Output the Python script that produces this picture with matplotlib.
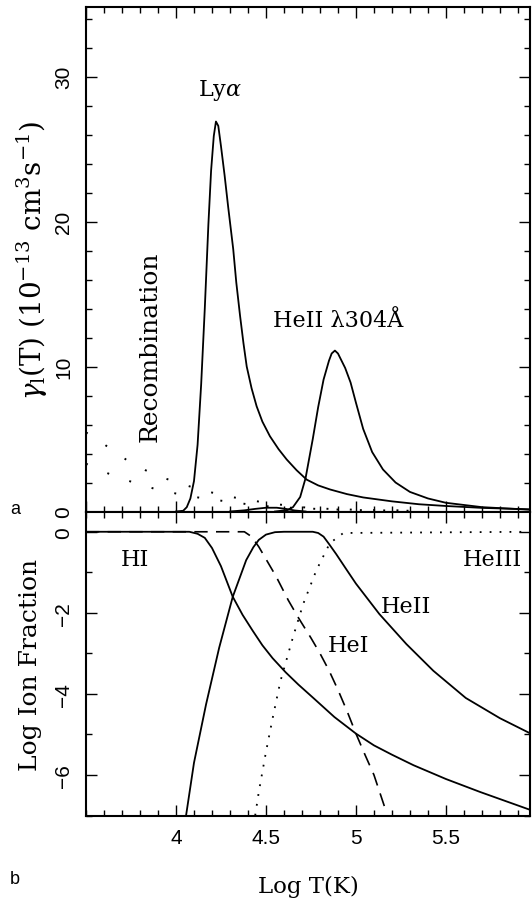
import numpy as np
import matplotlib
matplotlib.use("Agg")
import matplotlib.pyplot as plt
from matplotlib.ticker import MultipleLocator

plt.rcParams['font.family'] = ['DejaVu Serif']
plt.rcParams['mathtext.fontset'] = 'dejavuserif'

# ---- panel a: emission coefficients (1e-13 cm^3 s^-1) vs log T ----
lya_x = [4.00, 4.04, 4.06, 4.08, 4.10, 4.12, 4.14, 4.16, 4.18, 4.195, 4.21, 4.222,
         4.235, 4.25, 4.27, 4.29, 4.318, 4.335, 4.356, 4.375, 4.393, 4.42, 4.448,
         4.48, 4.522, 4.57, 4.615, 4.67, 4.726, 4.79, 4.856, 4.95, 5.04, 5.20,
         5.35, 5.50, 5.70, 5.97]
lya_y = [0.0, 0.05, 0.3, 0.9, 2.1, 4.6, 8.8, 14.0, 19.8, 23.5, 25.9, 26.9,
         26.6, 25.2, 23.2, 21.0, 18.1, 15.8, 13.5, 11.6, 10.0, 8.5, 7.26,
         6.2, 5.19, 4.3, 3.59, 2.85, 2.2, 1.8, 1.52, 1.2, 0.97, 0.7,
         0.5, 0.38, 0.25, 0.15]

he304_x = [4.55, 4.62, 4.65, 4.69, 4.72, 4.76, 4.79, 4.82, 4.85, 4.865, 4.883, 4.90,
           4.92, 4.94, 4.97, 5.00, 5.04, 5.09, 5.15, 5.22, 5.30, 5.40, 5.50, 5.70,
           5.97]
he304_y = [0.0, 0.1, 0.3, 1.0, 2.3, 5.0, 7.2, 9.1, 10.4, 10.9, 11.1, 10.9,
           10.4, 9.9, 8.9, 7.5, 5.7, 4.1, 2.9, 2.0, 1.35, 0.9, 0.6, 0.3,
           0.12]

bump_x = [4.30, 4.38, 4.44, 4.50, 4.56, 4.61, 4.66, 4.72]
bump_y = [0.0, 0.08, 0.18, 0.26, 0.26, 0.18, 0.07, 0.0]

rec1_x = [3.50, 3.54, 3.64, 3.73, 3.83, 3.94, 4.06, 4.17, 4.28, 4.39, 4.50, 4.62,
          4.73, 4.85, 5.00, 5.30]
rec1_y = [5.45, 5.2, 4.28, 3.52, 2.85, 2.28, 1.79, 1.4, 1.06, 0.83, 0.6, 0.41,
          0.26, 0.18, 0.12, 0.07]
rec2_x = [3.50, 3.55, 3.66, 3.77, 3.88, 4.00, 4.11, 4.23, 4.34, 4.45, 4.60, 4.80,
          5.00, 5.30]
rec2_y = [3.3, 3.01, 2.43, 1.98, 1.57, 1.24, 0.99, 0.78, 0.6, 0.41, 0.28, 0.17,
          0.1, 0.05]

# ---- panel b: log ion fractions ----
hi_x = [3.50, 4.074, 4.12, 4.16, 4.20, 4.25, 4.315, 4.37, 4.426, 4.48, 4.537,
        4.61, 4.68, 4.763, 4.88, 5.00, 5.10, 5.20, 5.32, 5.50, 5.69, 5.98]
hi_y = [0.0, 0.0, -0.05, -0.15, -0.4, -0.85, -1.6, -2.05, -2.44, -2.8, -3.12,
        -3.47, -3.77, -4.1, -4.57, -4.98, -5.27, -5.5, -5.76, -6.1, -6.42, -6.88]

heii_x = [4.056, 4.10, 4.167, 4.24, 4.315, 4.39, 4.43, 4.46, 4.50, 4.55, 4.60,
          4.76, 4.79, 4.82, 4.85, 4.89, 4.95, 5.00, 5.13, 5.28, 5.43, 5.61,
          5.80, 5.98]
heii_y = [-7.0, -5.7, -4.26, -2.86, -1.61, -0.7, -0.38, -0.2, -0.07, -0.01, 0.0,
          0.0, -0.03, -0.12, -0.3, -0.55, -0.95, -1.28, -2.03, -2.77, -3.43, -4.1,
          -4.6, -5.0]

hei_x = [3.50, 4.38, 4.42, 4.46, 4.51, 4.556, 4.624, 4.68, 4.75, 4.80, 4.85,
         4.90, 4.95, 5.00, 5.05, 5.10, 5.16]
hei_y = [0.0, 0.0, -0.12, -0.37, -0.75, -1.1, -1.69, -2.12, -2.62, -3.0, -3.42,
         -3.9, -4.42, -4.98, -5.5, -6.0, -6.8]

heiii_x = [4.44, 4.46, 4.50, 4.537, 4.58, 4.65, 4.707, 4.78, 4.855, 4.93, 5.98]
heiii_y = [-7.0, -6.42, -5.43, -4.6, -3.69, -2.6, -1.78, -0.95, -0.28, -0.03, 0.0]

W, H = 532, 903
fig = plt.figure(figsize=(W / 100, H / 100), dpi=100)
left, right = 86, 530
ax1 = fig.add_axes([left / W, 1 - 512.5 / H, (right - left) / W, 504.5 / H])
ax2 = fig.add_axes([left / W, 1 - 816.5 / H, (right - left) / W, 304 / H])

lw = 1.3
ax1.plot(lya_x, lya_y, color='black', lw=lw)
ax1.plot(he304_x, he304_y, color='black', lw=lw)
ax1.plot(bump_x, bump_y, color='black', lw=lw)
ax1.plot(rec1_x, rec1_y, color='black', lw=1.4, linestyle=(0, (1, 11)))
ax1.plot(rec2_x, rec2_y, color='black', lw=1.4, linestyle=(0, (1, 11)))

ax2.plot(hi_x, hi_y, color='black', lw=lw)
ax2.plot(heii_x, heii_y, color='black', lw=lw)
ax2.plot(hei_x, hei_y, color='black', lw=1.2, linestyle=(0, (8, 5)))
ax2.plot(heiii_x, heiii_y, color='black', lw=1.3, linestyle=(0, (1, 4.5)))

ax1.set_xlim(3.5, 5.967)
ax1.set_ylim(0, 34.8)
ax2.set_xlim(3.5, 5.967)
ax2.set_ylim(-7, 0.5)

for ax in (ax1, ax2):
    ax.xaxis.set_major_locator(MultipleLocator(0.5))
    ax.xaxis.set_minor_locator(MultipleLocator(0.1))
    ax.tick_params(which='both', direction='in', top=True, right=True, width=1.0)
    ax.tick_params(which='major', length=8)
    ax.tick_params(which='minor', length=4.5)
    ax.tick_params(axis='both', labelsize=15, pad=9)
    for s in ax.spines.values():
        s.set_linewidth(1.5)

ax1.yaxis.set_major_locator(MultipleLocator(10))
ax1.yaxis.set_minor_locator(MultipleLocator(2))
ax2.yaxis.set_major_locator(MultipleLocator(2))
ax2.yaxis.set_minor_locator(MultipleLocator(1))
ax1.tick_params(axis='x', labelbottom=False)

ax2.set_xticks([4, 4.5, 5, 5.5])
ax2.set_xticklabels(['4', '4.5', '5', '5.5'], fontfamily='Liberation Sans')
ax1.set_yticks([0, 10, 20, 30])
ax1.set_yticklabels(['0', '10', '20', '30'], rotation=90, va='center',
                    fontfamily='Liberation Sans')
ax2.set_yticks([-6, -4, -2, 0])
ax2.set_yticklabels(['\u22126', '\u22124', '\u22122', '0'], rotation=90, va='center',
                    fontfamily='Liberation Sans')

fs = 16
ax1.text(4.244, 29.1, r'Ly$\alpha$', ha='center', va='center', fontsize=fs)
ax1.text(4.90, 13.2, 'HeII \u03bb304\u00c5', ha='center', va='center', fontsize=fs)
ax1.text(3.856, 11.4, 'Recombination', ha='center', va='center', rotation=90, fontsize=18)

ax2.text(3.77, -0.68, 'HI', ha='center', va='center', fontsize=fs)
ax2.text(5.756, -0.68, 'HeIII', ha='center', va='center', fontsize=fs)
ax2.text(5.28, -1.83, 'HeII', ha='center', va='center', fontsize=fs)
ax2.text(4.96, -2.8, 'HeI', ha='center', va='center', fontsize=fs)

fig.text(32 / W, 1 - 260 / H, r'$\gamma_{\rm l}$(T) (10$^{-13}$ cm$^{3}$s$^{-1}$)',
         rotation=90, ha='center', va='center', fontsize=20)
fig.text(31 / W, 1 - 665 / H, 'Log Ion Fraction', rotation=90, ha='center',
         va='center', fontsize=18)
fig.text(308 / W, 1 - 887 / H, 'Log T(K)', ha='center', va='center', fontsize=16.5)
fig.text(10 / W, 1 - 510 / H, 'a', ha='left', va='center', fontsize=13,
         fontfamily='Liberation Sans')
fig.text(10 / W, 1 - 880 / H, 'b', ha='left', va='center', fontsize=13,
         fontfamily='Liberation Sans')

fig.savefig('out.png', dpi=100)
